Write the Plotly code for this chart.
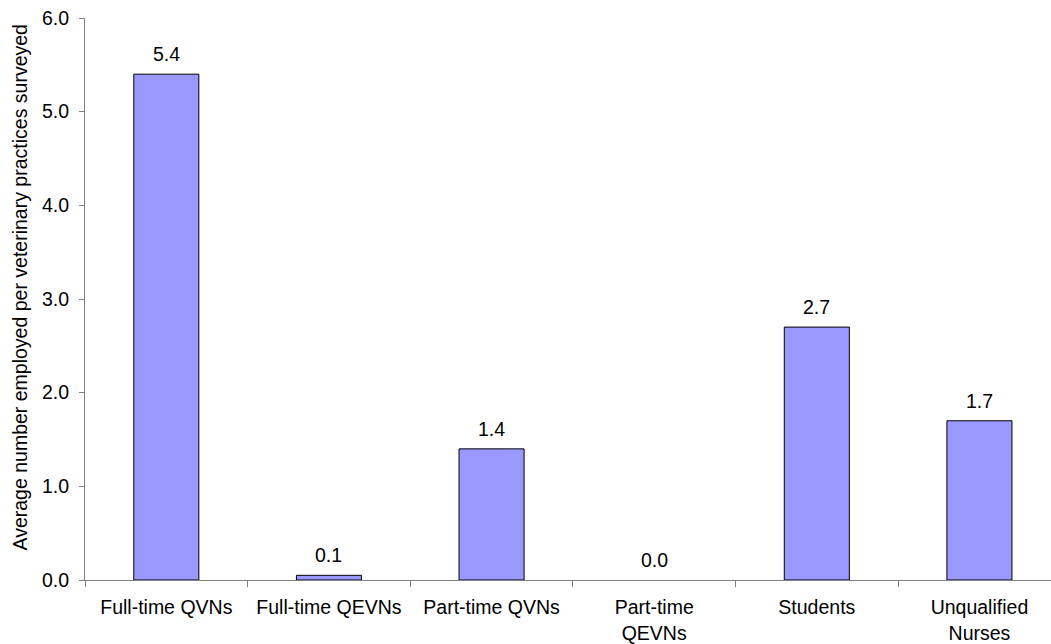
import plotly.graph_objects as go

categories = ["Full-time QVNs", "Full-time QEVNs", "Part-time QVNs",
              "Part-time<br>QEVNs", "Students", "Unqualified<br>Nurses"]
values = [5.4, 0.05, 1.4, 0.0, 2.7, 1.7]
value_labels = ["5.4", "0.1", "1.4", "0.0", "2.7", "1.7"]
y_ticks = [0, 1, 2, 3, 4, 5, 6]
y_title = "Average number employed per veterinary practices surveyed"

FONT = "Liberation Sans, Arial, sans-serif"
FS = 19.5
AXIS = "#808080"

fig = go.Figure()
fig.add_trace(go.Bar(
    x=categories, y=values, width=0.4,
    marker=dict(color="#9999FF",
                line=dict(color="black", width=[1 if v > 0 else 0 for v in values])),
    hoverinfo="skip",
))

for c, v, t in zip(categories, values, value_labels):
    fig.add_annotation(x=c, y=v, text=t, showarrow=False, yanchor="bottom",
                       yshift=7, font=dict(family=FONT, size=FS, color="black"))

fig.add_annotation(xref="paper", yref="paper", x=-0.0673, y=0.5205,
                   text=y_title, textangle=-90, showarrow=False,
                   xanchor="center", yanchor="middle",
                   font=dict(family=FONT, size=FS, color="black"))

fig.update_layout(
    width=1051, height=644,
    margin=dict(l=85, r=0, t=18, b=64, pad=0),
    plot_bgcolor="white", paper_bgcolor="white",
    showlegend=False,
    font=dict(family=FONT, size=FS, color="black"),
    xaxis=dict(range=[-0.5, 5.44], showline=True, linecolor=AXIS, linewidth=1,
               ticks="outside", tickson="boundaries", ticklen=6, tickcolor=AXIS,
               showgrid=False, zeroline=False, fixedrange=True,
               ticklabelstandoff=10,
               tickfont=dict(family=FONT, size=FS, color="black")),
    yaxis=dict(range=[0, 6], tickvals=y_ticks, tickformat=".1f",
               showline=True, linecolor=AXIS, linewidth=1,
               ticks="outside", ticklen=5, tickcolor=AXIS,
               showgrid=False, zeroline=False, fixedrange=True,
               ticklabelstandoff=6,
               tickfont=dict(family=FONT, size=FS, color="black")),
)

fig.write_html("out.html")
